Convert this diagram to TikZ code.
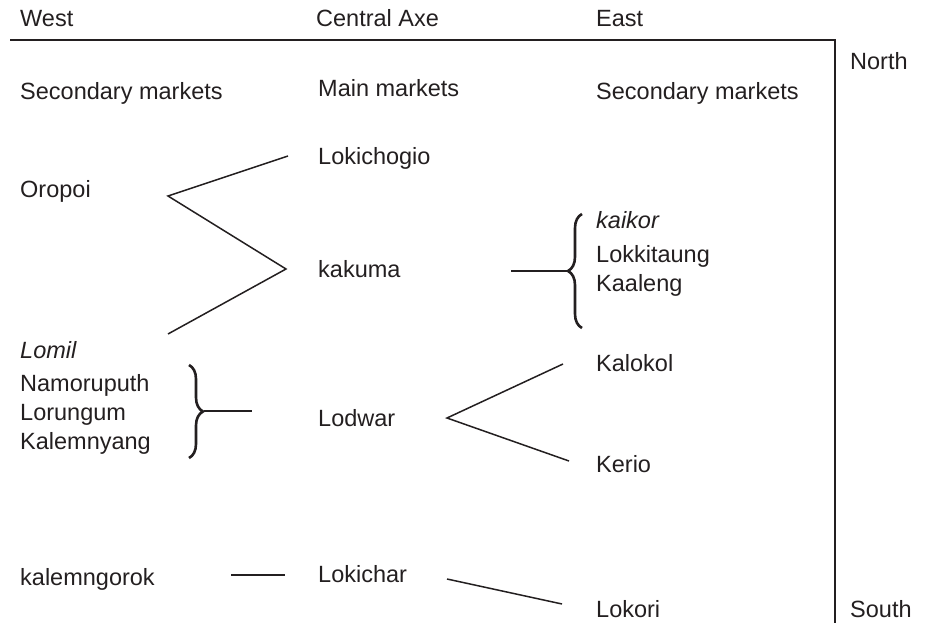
\documentclass[tikz,border=0pt]{standalone}
\usepackage{fontspec}
\setmainfont{Liberation Sans}
\usetikzlibrary{decorations.pathreplacing}
\definecolor{ink}{HTML}{231F20}
\begin{document}
\begin{tikzpicture}[x=1pt,y=-1pt,
  lbl/.style={anchor=base west,inner sep=0pt,text=ink,font=\fontsize{23.5}{28}\selectfont},
  conn/.style={draw=ink,line width=1.5pt},
  frame/.style={draw=ink,line width=1.7pt},
  bracecurl/.style={draw=ink,line width=2.6pt,decorate,decoration={brace,amplitude=14pt}}]
\useasboundingbox (0,0) rectangle (927,623);
% headers
\node[lbl] (west) at (20,27) {West};
\node[lbl] (central) at (316,27) {Central Axe};
\node[lbl] (east) at (596,27) {East};
\node[lbl] (north) at (850,70) {North};
\node[lbl] (south) at (850,617) {South};
% frame
\coordinate (fl) at (10,40);
\coordinate (fc) at (835,40);
\coordinate (fb) at (835,623);
\draw[frame] (fl) -- (fc) -- (fb);
% column titles
\node[lbl] (sw) at (20,100) {Secondary markets};
\node[lbl] (mm) at (318,97) {Main markets};
\node[lbl] (se) at (596,100) {Secondary markets};
% north group
\node[lbl] (lokichogio) at (318,165) {Lokichogio};
\node[lbl] (oropoi) at (20,197) {Oropoi};
\node[lbl] (kakuma) at (318,277) {kakuma};
\coordinate (a1) at (288,156);
\coordinate (a2) at (168,196);
\coordinate (a3) at (286,269);
\coordinate (a4) at (168,334);
\draw[conn] (a1) -- (a2) -- (a3) -- (a4);
% east brace group
\node[lbl] (kaikor) at (596,229) {\itshape kaikor};
\node[lbl] (lokkitaung) at (596,262) {Lokkitaung};
\node[lbl] (kaaleng) at (596,291) {Kaaleng};
\coordinate (eb1) at (582,328);
\coordinate (eb2) at (582,214);
\coordinate (etip) at (567,271);
\coordinate (eln) at (511,271);
\draw[bracecurl] (eb1) -- (eb2);
\draw[conn] (eln) -- (etip);
% west brace group
\node[lbl] (lomil) at (20,358) {\itshape Lomil};
\node[lbl] (namoruputh) at (20,391) {Namoruputh};
\node[lbl] (lorungum) at (20,420) {Lorungum};
\node[lbl] (kalemnyang) at (20,449) {Kalemnyang};
\coordinate (wb1) at (189,365);
\coordinate (wb2) at (189,458);
\coordinate (wtip) at (204,411);
\coordinate (wln) at (252,411);
\draw[bracecurl] (wb1) -- (wb2);
\draw[conn] (wtip) -- (wln);
% Lodwar
\node[lbl] (lodwar) at (318,426) {Lodwar};
\node[lbl] (kalokol) at (596,371) {Kalokol};
\node[lbl] (kerio) at (596,472) {Kerio};
\coordinate (b1) at (563,364);
\coordinate (b2) at (447,418);
\coordinate (b3) at (569,461);
\draw[conn] (b1) -- (b2) -- (b3);
% south
\node[lbl] (kalemngorok) at (20,585) {kalemngorok};
\node[lbl] (lokichar) at (318,582) {Lokichar};
\node[lbl] (lokori) at (596,617) {Lokori};
\coordinate (c1) at (231,575);
\coordinate (c2) at (285,575);
\draw[conn] (c1) -- (c2);
\coordinate (d1) at (447,579);
\coordinate (d2) at (562,604);
\draw[conn] (d1) -- (d2);
\end{tikzpicture}
\end{document}
